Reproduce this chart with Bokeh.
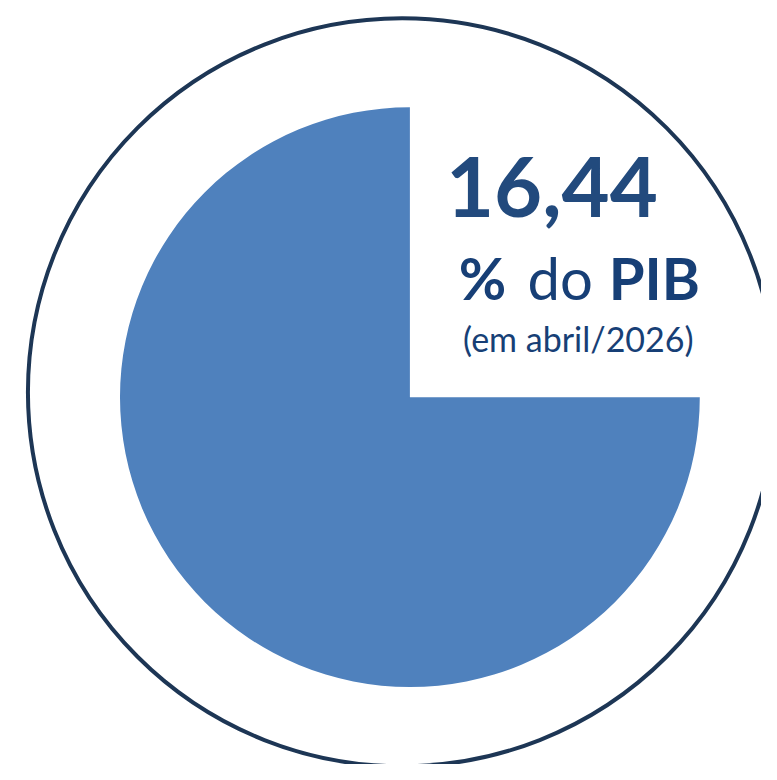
import math
from bokeh.plotting import figure
from bokeh.models import Range1d
from bokeh.core.properties import value
from bokeh.embed import file_html
from bokeh.resources import INLINE

# ---- data ----
share = [0.75]               # filled share of the pie (decorative 3/4 wedge)
headline = ["16,44"]
unit_parts = ["%", "do", "PIB"]
unit_bold = [True, False, True]
note = ["(em abril/2026)"]

W, H = 761, 764
p = figure(width=W, height=H, output_backend="svg", toolbar_location=None,
           x_range=Range1d(0, 777), y_range=Range1d(0, 780),
           min_border=0)
p.axis.visible = False
p.grid.visible = False
p.outline_line_color = None
p.background_fill_color = "white"
p.border_fill_color = "white"

def Y(ypix):
    return 780 - ypix

# outer ring
p.circle(x=[410], y=[Y(400)], radius=382, fill_color=None,
         line_color="#1d3655", line_width=4)

# pie wedge
start = [math.pi / 2]
end = [math.pi / 2 + 2 * math.pi * s for s in share]
p.wedge(x=[418], y=[Y(405)], radius=296, start_angle=start, end_angle=end,
        direction="anticlock", fill_color="#4f81bd", line_color=None)

# headline number
p.text(x=[563], y=[Y(190)], text=headline, text_align="center",
       text_baseline="alphabetic", text_font=value("Lato"),
       text_font_style="bold", text_font_size="83px", text_color="#224a7d")

# "% do PIB"
xs = [468, 538, 621]
for t, b, x in zip(unit_parts, unit_bold, xs):
    p.text(x=[x], y=[Y(283)], text=[t], text_align="left",
           text_baseline="alphabetic", text_font=value("Lato"),
           text_font_style="bold" if b else "normal",
           text_font_size="58px", text_color="#173f76")

# note
p.text(x=[590], y=[Y(345)], text=note, text_align="center",
       text_baseline="alphabetic", text_font=value("Lato"),
       text_font_size="34px", text_color="#173f76")

open("out.html", "w").write(file_html(p, INLINE))
